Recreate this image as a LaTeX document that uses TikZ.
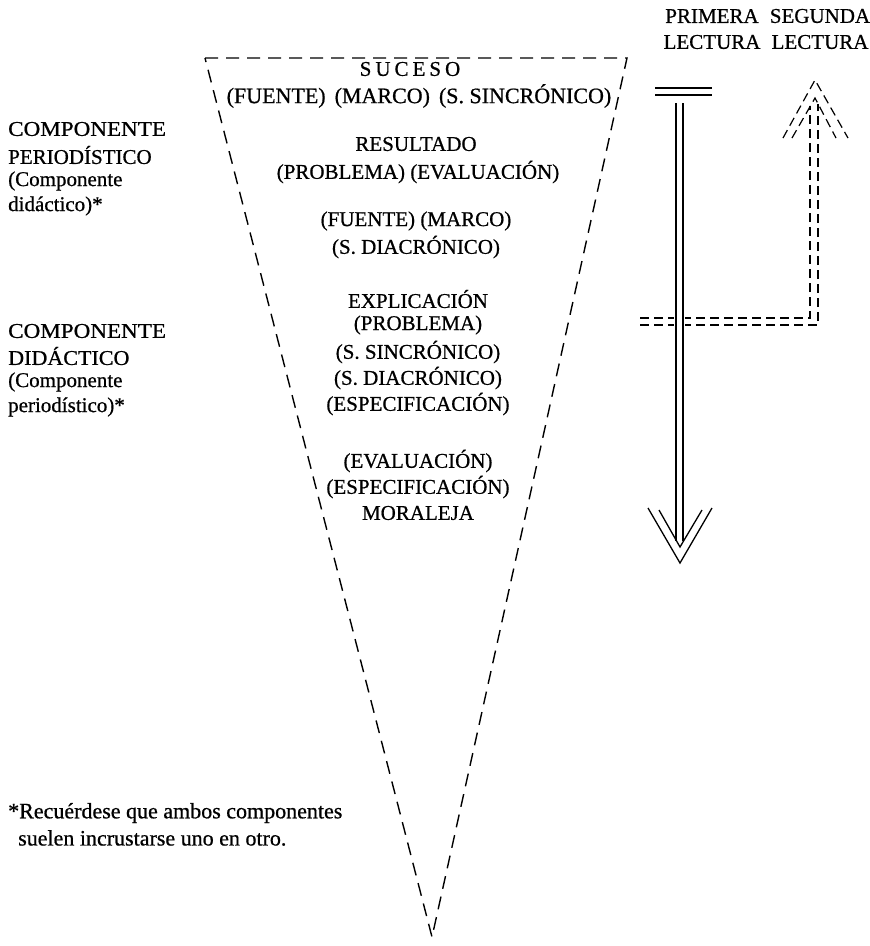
\documentclass[tikz,border=0pt]{standalone}
\usepackage{graphicx}
\usepackage{fontspec}
\setmainfont{Liberation Serif}[FakeBold=0.7]
\begin{document}
\begin{tikzpicture}[x=1pt,y=-1pt,
  txt/.style={font=\fontsize{21}{25}\selectfont, inner sep=0pt, text=black},
  ltxt/.style={txt, anchor=west},
  tri/.style={line width=1.4pt, dash pattern=on 13pt off 8pt},
  dl/.style={line width=1.2pt, dash pattern=on 9pt off 5pt},
  sline/.style={line width=1.3pt}]
\useasboundingbox (0,0) rectangle (870,946);

% inverted triangle
\coordinate (TL) at (205,58);
\coordinate (TR) at (627,58);
\coordinate (B) at (432,937);
\draw[tri] (TL) -- (TR) -- (B) -- cycle;

% triangle text
\node[txt] (s1) at (410,69) {S\kern4pt U\kern4pt C\kern4pt E\kern4pt S\kern4pt O};
\node[txt, font=\fontsize{22}{25}\selectfont] (s2) at (419,96) {(FUENTE)\hspace{9pt}(MARCO)\hspace{9pt}(S. SINCRÓNICO)};
\node[txt] (r1) at (416,144) {RESULTADO};
\node[txt] (r2) at (418,172) {(PROBLEMA) (EVALUACIÓN)};
\node[txt] (f1) at (416,221) {(FUENTE) (MARCO)};
\node[txt] (f2) at (416,247) {(S. DIACRÓNICO)};
\node[txt] (e1) at (418,299) {EXPLICACIÓN};
\node[txt] (e2) at (418,325) {(PROBLEMA)};
\node[txt] (e3) at (418,352) {(S. SINCRÓNICO)};
\node[txt] (e4) at (418,378) {(S. DIACRÓNICO)};
\node[txt] (e5) at (418,404) {(ESPECIFICACIÓN)};
\node[txt] (m1) at (418,461) {(EVALUACIÓN)};
\node[txt] (m2) at (418,487) {(ESPECIFICACIÓN)};
\node[txt] (m3) at (418,513) {MORALEJA};

% left labels
\node[ltxt] (cp1) at (8,129) {\scalebox{1.1}[1]{COMPONENTE}};
\node[ltxt] (cp2) at (8,155) {PERIODÍSTICO};
\node[ltxt] (cp3) at (8,181) {(Componente};
\node[ltxt] (cp4) at (8,206) {didáctico)*};
\node[ltxt] (cd1) at (8,331) {\scalebox{1.1}[1]{COMPONENTE}};
\node[ltxt] (cd2) at (8,356) {\scalebox{1.05}[1]{DIDÁCTICO}};
\node[ltxt] (cd3) at (8,382) {(Componente};
\node[ltxt] (cd4) at (8,407) {periodístico)*};

% footnote
\node[ltxt, font=\fontsize{22}{25}\selectfont] (n1) at (8,813) {*Recuérdese que ambos componentes};
\node[ltxt, font=\fontsize{22}{25}\selectfont] (n2) at (18,838) {suelen incrustarse uno en otro.};

% headers
\node[txt] (h1) at (712,16) {PRIMERA};
\node[txt] (h2) at (712,42) {LECTURA};
\node[txt] (h3) at (820,16) {SEGUNDA};
\node[txt] (h4) at (820,42) {LECTURA};

% second reading arrow (dashed double), drawn first so the solid shaft lies over it
\coordinate (u0) at (640,318); \coordinate (u1) at (810,318); \coordinate (u2) at (810,106);
\coordinate (w0) at (640,325); \coordinate (w1) at (818,325); \coordinate (w2) at (818,104);
\draw[dl] (u0) -- (u1) -- (u2);
\draw[dl] (w0) -- (w1) -- (w2);
\coordinate (qL) at (783,138); \coordinate (qA) at (815,80); \coordinate (qR) at (848,138);
\coordinate (pL) at (792,138); \coordinate (pA) at (815,98); \coordinate (pR) at (836,138);
\draw[dl] (qL) -- (qA) -- (qR);
\draw[dl] (pL) -- (pA) -- (pR);

% first reading arrow (solid double)
\coordinate (barL1) at (655,88);  \coordinate (barR1) at (712,88);
\coordinate (barL2) at (655,95);  \coordinate (barR2) at (712,95);
\draw[sline] (barL1) -- (barR1);
\draw[sline] (barL2) -- (barR2);
\coordinate (sa1) at (676,103); \coordinate (sb1) at (676,541);
\coordinate (sa2) at (683,103); \coordinate (sb2) at (683,541);
\fill[white] (674,310) rectangle (685,332);
\draw[sline] (sa1) -- (sb1);
\draw[sline] (sa2) -- (sb2);
\coordinate (oL) at (648,508); \coordinate (oA) at (680,563); \coordinate (oR) at (712,508);
\coordinate (iL) at (659,510); \coordinate (iA) at (680,547); \coordinate (iR) at (702,510);
\draw[sline] (oL) -- (oA) -- (oR);
\draw[sline] (iL) -- (iA) -- (iR);
\end{tikzpicture}
\end{document}
